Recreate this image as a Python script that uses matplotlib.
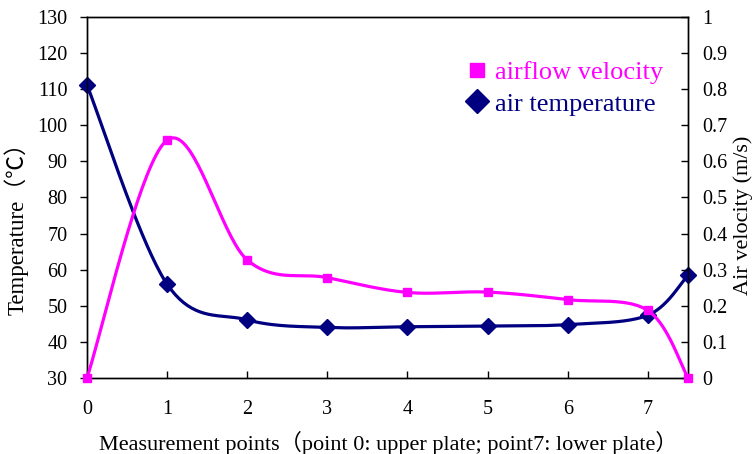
import numpy as np
import matplotlib
matplotlib.use("Agg")
import matplotlib.pyplot as plt
from matplotlib.lines import Line2D
from matplotlib.ticker import FuncFormatter

plt.rcParams['font.family'] = ['Liberation Serif', 'Noto Sans CJK SC']

# data
points = [0, 1, 2, 3, 4, 5, 6, 7, 7.5]
air_temp = [111.2, 56.0, 46.1, 44.0, 44.2, 44.4, 44.8, 47.4, 58.5]   # left axis, C
air_vel = [0.0, 0.659, 0.327, 0.278, 0.237, 0.238, 0.217, 0.187, 0.0]  # right axis, m/s
temp_ticks = list(range(30, 131, 10))
vel_ticks = [round(0.1 * i, 1) for i in range(11)]
x_ticks = list(range(0, 8))

c_vel = '#FF00FF'
c_temp = '#000080'


def smooth(x, y, n=40):
    # Excel-like smoothed line: bezier segments with catmull-rom handles
    x = np.asarray(x, float)
    y = np.asarray(y, float)
    P = np.column_stack([x, y])
    out = [P[:1]]
    t = np.linspace(0, 1, n)[1:, None]
    for i in range(len(P) - 1):
        p0 = P[i - 1] if i > 0 else P[i]
        p3 = P[i + 2] if i + 2 < len(P) else P[i + 1]
        c1 = P[i] + (P[i + 1] - p0) / 6
        c2 = P[i + 1] - (p3 - P[i]) / 6
        seg = ((1 - t) ** 3) * P[i] + 3 * ((1 - t) ** 2) * t * c1 + 3 * (1 - t) * t ** 2 * c2 + t ** 3 * P[i + 1]
        out.append(seg)
    out = np.vstack(out)
    return out[:, 0], out[:, 1]


fig = plt.figure(figsize=(7.56, 4.54), dpi=100)
ax = fig.add_axes([0.115, 0.1674, 0.795, 0.7952])
ax2 = ax.twinx()

sx, sy = smooth(points, air_temp)
ax.plot(sx, sy, color=c_temp, lw=2.3, zorder=3)
ax.plot(points, air_temp, ls='none', marker='D', ms=8, color=c_temp, zorder=4, clip_on=False)

vx, vy = smooth(points, air_vel)
ax2.plot(vx, vy, color=c_vel, lw=2.3, zorder=3)
ax2.plot(points, air_vel, ls='none', marker='s', ms=6, color=c_vel, zorder=4, clip_on=False)

ax.set_xlim(0, 7.5)
ax.set_ylim(30, 130)
ax2.set_ylim(0, 1)
ax.set_xticks(x_ticks)
ax.set_yticks(temp_ticks)
ax2.set_yticks(vel_ticks)
ax2.yaxis.set_major_formatter(FuncFormatter(lambda v, p: f"{v:g}"))

ax.tick_params(axis='x', direction='in', length=5, width=1, pad=16, labelsize=14.5, top=False)
ax.tick_params(axis='y', direction='out', length=5, width=1, pad=9, labelsize=14.5)
ax2.tick_params(axis='y', direction='in', length=5, width=1, pad=10, labelsize=14.5)

for a in (ax, ax2):
    for s in a.spines.values():
        s.set_linewidth(1)
        s.set_color('black')

ax.set_xlabel('Measurement points（point 0: upper plate; point7: lower plate）', fontsize=16)
ax.set_ylabel('Temperature（℃）', fontsize=16.5)
ax2.set_ylabel('Air velocity (m/s)', fontsize=16)
ax.xaxis.set_label_coords(0.502, -0.148)
ax.yaxis.set_label_coords(-0.097, 0.43)
ax2.yaxis.set_label_coords(1.075, 0.45)

handles = [Line2D([], [], ls='none', marker='s', ms=10, color=c_vel),
           Line2D([], [], ls='none', marker='D', ms=12, color=c_temp)]
ax2.legend(handles, ['airflow velocity', 'air temperature'], loc='upper right',
           bbox_to_anchor=(0.98, 0.915), frameon=False, fontsize=19,
           labelcolor=[c_vel, c_temp], handlelength=0.8, handletextpad=0.25,
           labelspacing=0.3, borderpad=0)

fig.savefig('out.png', dpi=100)
